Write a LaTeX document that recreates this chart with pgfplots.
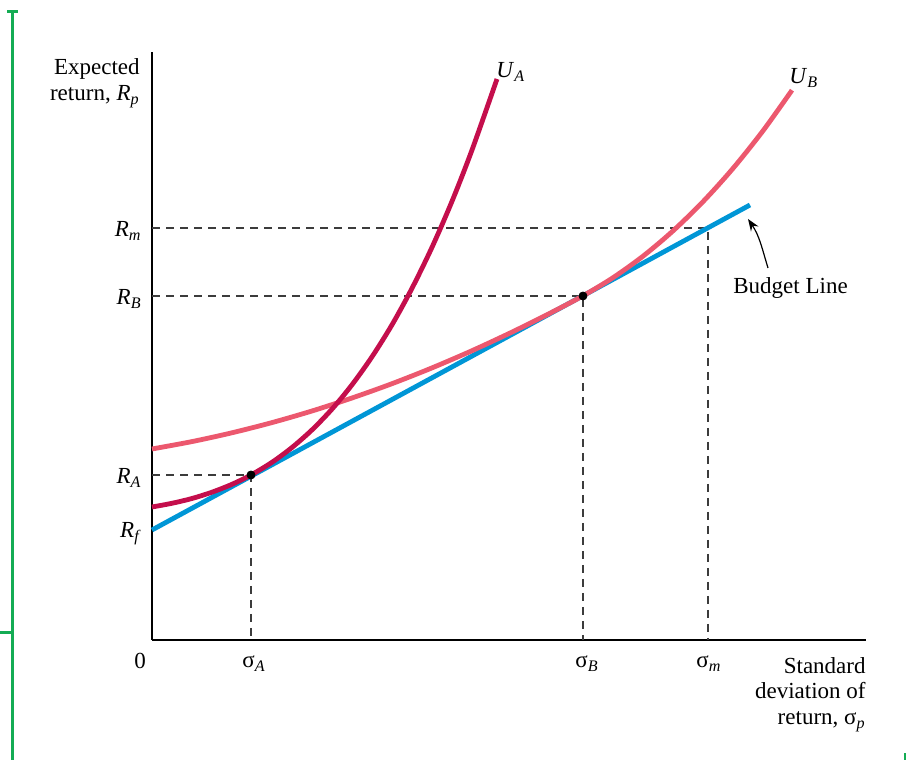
\documentclass[border=0pt]{standalone}
\usepackage{fontspec}
\setmainfont{Liberation Serif}
\usepackage{pgfplots}
\pgfplotsset{compat=1.18}
\usetikzlibrary{arrows.meta}
\definecolor{ua}{RGB}{196,14,76}
\definecolor{ub}{RGB}{236,88,110}
\definecolor{bl}{RGB}{0,150,214}
\definecolor{gr}{RGB}{20,172,84}
\definecolor{dashc}{RGB}{60,60,60}
\newcommand{\vsub}[2]{\textit{#1}\textsubscript{\textit{#2}}}
\newcommand{\gs}[1]{σ\textsubscript{\textit{#1}}}
\begin{document}
\begin{tikzpicture}[lbl/.style={font=\fontsize{11.5}{14}\selectfont, inner sep=0pt}]
\useasboundingbox (0,0) rectangle (453pt,381.5pt);
\begin{axis}[at={(76pt,61.5pt)}, anchor=south west, scale only axis,
  width=357pt, height=294pt, xmin=0, xmax=714, ymin=0, ymax=588,
  axis lines=left, axis line style={-, line width=0.75pt, black},
  ticks=none, clip=false]
% dashed guides
\addplot[dashc, line width=0.7pt, dash pattern=on 4pt off 3pt] coordinates {(0,412) (556,412) (556,0)};
\addplot[dashc, line width=0.7pt, dash pattern=on 4pt off 3pt] coordinates {(0,344) (431,344) (431,0)};
\addplot[dashc, line width=0.7pt, dash pattern=on 4pt off 3pt] coordinates {(0,165) (99,165) (99,0)};
% budget line
\addplot[bl, line width=2.4pt] coordinates {(0,110) (598,435)};
% U_B
\addplot[ub, line width=2.4pt, smooth] coordinates {
(0,191.0) (40,198.4) (80,207.2) (120,217.4) (160,229.0) (200,242.0)
(240,256.3) (280,272.1) (320,289.3) (360,307.9) (400,327.8) (431,344.2)
(461,362.3) (491,383.8) (521,409.1) (551,438.3) (581,471.6) (611,509.2)
(640,549.8)};
% U_A
\addplot[ua, line width=2.4pt, smooth] coordinates {
(0,133.0) (20,136.7) (40,141.5) (60,147.8) (80,155.7) (99,165.0)
(120,177.7) (140,192.5) (160,210.1) (180,230.9) (200,255.2) (220,283.2)
(240,315.2) (260,351.7) (280,392.7) (300,438.7) (320,490.0) (345,561.0)};
% points
\addplot[only marks, mark=*, mark size=2pt, black] coordinates {(99,165) (431,344)};
% labels
\node[lbl, anchor=base east] at (axis cs:-12,565) {Expected};
\node[lbl, anchor=base east] at (axis cs:-12,539) {return, \vsub{R}{p}};
\node[lbl, anchor=base east] at (axis cs:-10,403) {\vsub{R}{m}};
\node[lbl, anchor=base east] at (axis cs:-10,335) {\vsub{R}{B}};
\node[lbl, anchor=base east] at (axis cs:-10,156) {\vsub{R}{A}};
\node[lbl, anchor=base east] at (axis cs:-10,102) {\vsub{R}{f}};
\node[lbl, anchor=base] at (axis cs:-12,-29) {0};
\node[lbl, anchor=base] at (axis cs:102,-28) {\gs{A}};
\node[lbl, anchor=base] at (axis cs:435,-28) {\gs{B}};
\node[lbl, anchor=base] at (axis cs:557,-28) {\gs{m}};
\node[lbl, anchor=base east] at (axis cs:714,-34) {Standard};
\node[lbl, anchor=base east] at (axis cs:714,-59) {deviation of};
\node[lbl, anchor=base east] at (axis cs:714,-85) {return, \gs{p}};
\node[lbl, anchor=base west] at (axis cs:344,562) {\vsub{U}{A}};
\node[lbl, anchor=base west] at (axis cs:637,556) {\vsub{U}{B}};
\node[lbl, anchor=base west] at (axis cs:581,346) {Budget Line};
\draw[-{Stealth[length=6pt,width=4.5pt]}, line width=0.6pt] (axis cs:616,372) to[out=107, in=-56] (axis cs:596,421);
\end{axis}
% green marks
\draw[gr, line width=1.5pt] (6pt,1.5pt) -- (6pt,376.5pt);
\draw[gr, line width=1.5pt] (3.5pt,375.5pt) -- (9pt,375.5pt);
\draw[gr, line width=1.5pt] (0pt,65pt) -- (6pt,65pt);
\draw[gr, line width=1.5pt] (452.5pt,1.5pt) -- (452.5pt,5pt);
\end{tikzpicture}
\end{document}
